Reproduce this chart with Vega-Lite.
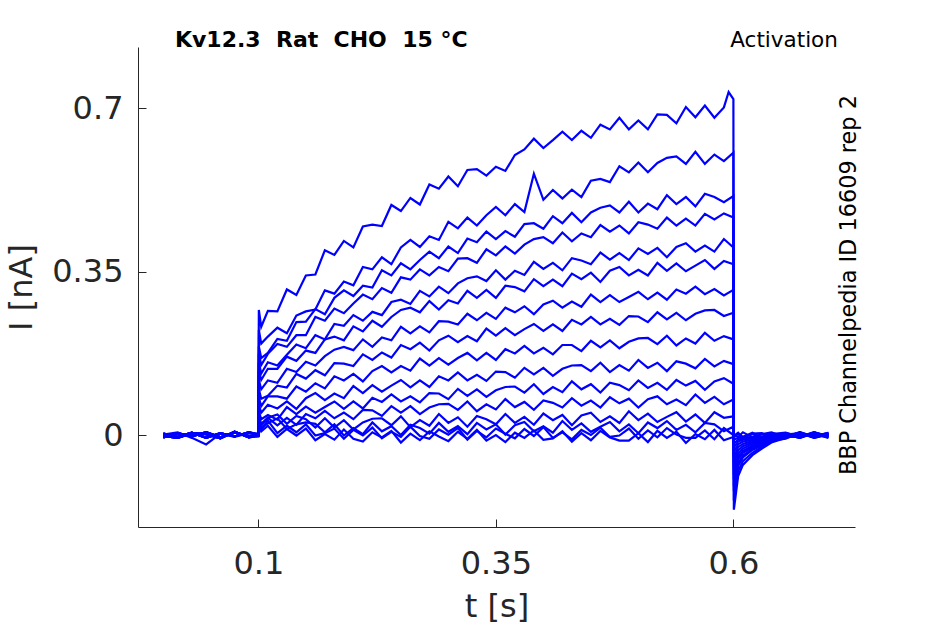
{
  "$schema": "https://vega.github.io/schema/vega-lite/v6.json",
  "width": 717,
  "height": 480,
  "autosize": "none",
  "padding": {"left": 138, "top": 47, "right": 90, "bottom": 97},
  "background": "white",
  "data": {
    "values": [
      {"s":1,"t":0,"i":0.003},{"s":1,"t":0.015,"i":-0.004},{"s":1,"t":0.03,"i":0.005},{"s":1,"t":0.045,"i":-0.006},{"s":1,"t":0.06,"i":0.004},{"s":1,"t":0.075,"i":-0.003},{"s":1,"t":0.09,"i":0.006},
      {"s":1,"t":0.1,"i":0.002},{"s":1,"t":0.1005,"i":0.268},{"s":1,"t":0.103,"i":0.232},
      {"s":1,"t":0.11,"i":0.266},{"s":1,"t":0.12,"i":0.265},{"s":1,"t":0.13,"i":0.312},{"s":1,"t":0.14,"i":0.300},{"s":1,"t":0.15,"i":0.342},{"s":1,"t":0.16,"i":0.344},{"s":1,"t":0.17,"i":0.396},{"s":1,"t":0.18,"i":0.386},{"s":1,"t":0.19,"i":0.416},{"s":1,"t":0.2,"i":0.402},
      {"s":1,"t":0.21,"i":0.447},{"s":1,"t":0.22,"i":0.451},{"s":1,"t":0.23,"i":0.448},{"s":1,"t":0.24,"i":0.493},{"s":1,"t":0.25,"i":0.480},{"s":1,"t":0.26,"i":0.508},{"s":1,"t":0.27,"i":0.494},{"s":1,"t":0.28,"i":0.537},{"s":1,"t":0.29,"i":0.528},{"s":1,"t":0.3,"i":0.554},
      {"s":1,"t":0.31,"i":0.533},{"s":1,"t":0.32,"i":0.568},{"s":1,"t":0.33,"i":0.570},{"s":1,"t":0.34,"i":0.556},{"s":1,"t":0.35,"i":0.575},{"s":1,"t":0.36,"i":0.566},{"s":1,"t":0.37,"i":0.600},{"s":1,"t":0.38,"i":0.612},{"s":1,"t":0.39,"i":0.635},{"s":1,"t":0.4,"i":0.615},
      {"s":1,"t":0.41,"i":0.632},{"s":1,"t":0.42,"i":0.650},{"s":1,"t":0.43,"i":0.632},{"s":1,"t":0.44,"i":0.652},{"s":1,"t":0.45,"i":0.637},{"s":1,"t":0.46,"i":0.665},{"s":1,"t":0.47,"i":0.655},{"s":1,"t":0.48,"i":0.680},{"s":1,"t":0.49,"i":0.655},{"s":1,"t":0.5,"i":0.674},
      {"s":1,"t":0.51,"i":0.655},{"s":1,"t":0.52,"i":0.687},{"s":1,"t":0.53,"i":0.686},{"s":1,"t":0.54,"i":0.668},{"s":1,"t":0.55,"i":0.703},{"s":1,"t":0.56,"i":0.681},{"s":1,"t":0.57,"i":0.706},{"s":1,"t":0.58,"i":0.680},{"s":1,"t":0.59,"i":0.702},{"s":1,"t":0.595,"i":0.735},{"s":1,"t":0.6,"i":0.72},
      {"s":1,"t":0.6005,"i":-0.16},{"s":1,"t":0.605,"i":-0.088},{"s":1,"t":0.61,"i":-0.064},{"s":1,"t":0.62,"i":-0.043},{"s":1,"t":0.63,"i":-0.029},{"s":1,"t":0.64,"i":-0.016},{"s":1,"t":0.655,"i":-0.006},{"s":1,"t":0.67,"i":0.004},{"s":1,"t":0.685,"i":-0.005},{"s":1,"t":0.7,"i":0.003},

      {"s":2,"t":0,"i":-0.005},{"s":2,"t":0.015,"i":0.004},{"s":2,"t":0.03,"i":-0.003},{"s":2,"t":0.045,"i":0.006},{"s":2,"t":0.06,"i":-0.005},{"s":2,"t":0.075,"i":0.005},{"s":2,"t":0.09,"i":-0.002},
      {"s":2,"t":0.1,"i":-0.003},{"s":2,"t":0.1005,"i":0.225},{"s":2,"t":0.103,"i":0.196},
      {"s":2,"t":0.11,"i":0.211},{"s":2,"t":0.12,"i":0.230},{"s":2,"t":0.13,"i":0.218},{"s":2,"t":0.14,"i":0.256},{"s":2,"t":0.15,"i":0.265},{"s":2,"t":0.16,"i":0.269},{"s":2,"t":0.17,"i":0.310},{"s":2,"t":0.18,"i":0.303},{"s":2,"t":0.19,"i":0.329},{"s":2,"t":0.2,"i":0.321},
      {"s":2,"t":0.21,"i":0.360},{"s":2,"t":0.22,"i":0.355},{"s":2,"t":0.23,"i":0.381},{"s":2,"t":0.24,"i":0.366},{"s":2,"t":0.25,"i":0.402},{"s":2,"t":0.26,"i":0.418},{"s":2,"t":0.27,"i":0.403},{"s":2,"t":0.28,"i":0.426},{"s":2,"t":0.29,"i":0.418},{"s":2,"t":0.3,"i":0.457},
      {"s":2,"t":0.31,"i":0.443},{"s":2,"t":0.32,"i":0.466},{"s":2,"t":0.33,"i":0.449},{"s":2,"t":0.34,"i":0.471},{"s":2,"t":0.35,"i":0.489},{"s":2,"t":0.36,"i":0.471},{"s":2,"t":0.37,"i":0.495},{"s":2,"t":0.38,"i":0.478},{"s":2,"t":0.39,"i":0.560},{"s":2,"t":0.4,"i":0.504},
      {"s":2,"t":0.41,"i":0.525},{"s":2,"t":0.42,"i":0.507},{"s":2,"t":0.43,"i":0.526},{"s":2,"t":0.44,"i":0.510},{"s":2,"t":0.45,"i":0.545},{"s":2,"t":0.46,"i":0.549},{"s":2,"t":0.47,"i":0.542},{"s":2,"t":0.48,"i":0.576},{"s":2,"t":0.49,"i":0.563},{"s":2,"t":0.5,"i":0.584},
      {"s":2,"t":0.51,"i":0.563},{"s":2,"t":0.52,"i":0.583},{"s":2,"t":0.53,"i":0.594},{"s":2,"t":0.54,"i":0.597},{"s":2,"t":0.55,"i":0.581},{"s":2,"t":0.56,"i":0.607},{"s":2,"t":0.57,"i":0.581},{"s":2,"t":0.58,"i":0.601},{"s":2,"t":0.59,"i":0.587},{"s":2,"t":0.6,"i":0.605},
      {"s":2,"t":0.6005,"i":-0.14},{"s":2,"t":0.605,"i":-0.077},{"s":2,"t":0.61,"i":-0.056},{"s":2,"t":0.62,"i":-0.038},{"s":2,"t":0.63,"i":-0.025},{"s":2,"t":0.64,"i":-0.014},{"s":2,"t":0.655,"i":-0.002},{"s":2,"t":0.67,"i":-0.005},{"s":2,"t":0.685,"i":0.006},{"s":2,"t":0.7,"i":-0.004},

      {"s":3,"t":0,"i":-0.002},{"s":3,"t":0.015,"i":-0.006},{"s":3,"t":0.03,"i":0.004},{"s":3,"t":0.045,"i":0.002},{"s":3,"t":0.06,"i":-0.007},{"s":3,"t":0.075,"i":0.007},{"s":3,"t":0.09,"i":-0.005},
      {"s":3,"t":0.1,"i":0.001},{"s":3,"t":0.1005,"i":0.19},{"s":3,"t":0.103,"i":0.165},
      {"s":3,"t":0.11,"i":0.176},{"s":3,"t":0.12,"i":0.206},{"s":3,"t":0.13,"i":0.202},{"s":3,"t":0.14,"i":0.242},{"s":3,"t":0.15,"i":0.243},{"s":3,"t":0.16,"i":0.270},{"s":3,"t":0.17,"i":0.259},{"s":3,"t":0.18,"i":0.294},{"s":3,"t":0.19,"i":0.310},{"s":3,"t":0.2,"i":0.298},
      {"s":3,"t":0.21,"i":0.320},{"s":3,"t":0.22,"i":0.316},{"s":3,"t":0.23,"i":0.353},{"s":3,"t":0.24,"i":0.342},{"s":3,"t":0.25,"i":0.368},{"s":3,"t":0.26,"i":0.355},{"s":3,"t":0.27,"i":0.375},{"s":3,"t":0.28,"i":0.393},{"s":3,"t":0.29,"i":0.379},{"s":3,"t":0.3,"i":0.404},
      {"s":3,"t":0.31,"i":0.390},{"s":3,"t":0.32,"i":0.421},{"s":3,"t":0.33,"i":0.413},{"s":3,"t":0.34,"i":0.436},{"s":3,"t":0.35,"i":0.420},{"s":3,"t":0.36,"i":0.437},{"s":3,"t":0.37,"i":0.425},{"s":3,"t":0.38,"i":0.452},{"s":3,"t":0.39,"i":0.454},{"s":3,"t":0.4,"i":0.442},
      {"s":3,"t":0.41,"i":0.469},{"s":3,"t":0.42,"i":0.454},{"s":3,"t":0.43,"i":0.476},{"s":3,"t":0.44,"i":0.456},{"s":3,"t":0.45,"i":0.477},{"s":3,"t":0.46,"i":0.487},{"s":3,"t":0.47,"i":0.492},{"s":3,"t":0.48,"i":0.477},{"s":3,"t":0.49,"i":0.500},{"s":3,"t":0.5,"i":0.477},
      {"s":3,"t":0.51,"i":0.496},{"s":3,"t":0.52,"i":0.484},{"s":3,"t":0.53,"i":0.514},{"s":3,"t":0.54,"i":0.495},{"s":3,"t":0.55,"i":0.510},{"s":3,"t":0.56,"i":0.490},{"s":3,"t":0.57,"i":0.517},{"s":3,"t":0.58,"i":0.510},{"s":3,"t":0.59,"i":0.499},{"s":3,"t":0.6,"i":0.512},
      {"s":3,"t":0.6005,"i":-0.12},{"s":3,"t":0.605,"i":-0.066},{"s":3,"t":0.61,"i":-0.048},{"s":3,"t":0.62,"i":-0.032},{"s":3,"t":0.63,"i":-0.022},{"s":3,"t":0.64,"i":-0.012},{"s":3,"t":0.655,"i":-0.008},{"s":3,"t":0.67,"i":0.005},{"s":3,"t":0.685,"i":-0.003},{"s":3,"t":0.7,"i":0.004},

      {"s":4,"t":0,"i":0.003},{"s":4,"t":0.015,"i":-0.004},{"s":4,"t":0.03,"i":0.005},{"s":4,"t":0.045,"i":-0.006},{"s":4,"t":0.06,"i":0.004},{"s":4,"t":0.075,"i":-0.003},{"s":4,"t":0.09,"i":0.006},
      {"s":4,"t":0.1,"i":0.0},{"s":4,"t":0.1005,"i":0.175},{"s":4,"t":0.103,"i":0.15},
      {"s":4,"t":0.11,"i":0.174},{"s":4,"t":0.12,"i":0.195},{"s":4,"t":0.13,"i":0.189},{"s":4,"t":0.14,"i":0.214},{"s":4,"t":0.15,"i":0.214},{"s":4,"t":0.16,"i":0.253},{"s":4,"t":0.17,"i":0.245},{"s":4,"t":0.18,"i":0.271},{"s":4,"t":0.19,"i":0.261},{"s":4,"t":0.2,"i":0.282},
      {"s":4,"t":0.21,"i":0.301},{"s":4,"t":0.22,"i":0.291},{"s":4,"t":0.23,"i":0.315},{"s":4,"t":0.24,"i":0.305},{"s":4,"t":0.25,"i":0.338},{"s":4,"t":0.26,"i":0.333},{"s":4,"t":0.27,"i":0.355},{"s":4,"t":0.28,"i":0.342},{"s":4,"t":0.29,"i":0.360},{"s":4,"t":0.3,"i":0.351},
      {"s":4,"t":0.31,"i":0.378},{"s":4,"t":0.32,"i":0.379},{"s":4,"t":0.33,"i":0.369},{"s":4,"t":0.34,"i":0.398},{"s":4,"t":0.35,"i":0.385},{"s":4,"t":0.36,"i":0.404},{"s":4,"t":0.37,"i":0.389},{"s":4,"t":0.38,"i":0.408},{"s":4,"t":0.39,"i":0.420},{"s":4,"t":0.4,"i":0.424},
      {"s":4,"t":0.41,"i":0.411},{"s":4,"t":0.42,"i":0.434},{"s":4,"t":0.43,"i":0.415},{"s":4,"t":0.44,"i":0.432},{"s":4,"t":0.45,"i":0.424},{"s":4,"t":0.46,"i":0.450},{"s":4,"t":0.47,"i":0.436},{"s":4,"t":0.48,"i":0.449},{"s":4,"t":0.49,"i":0.432},{"s":4,"t":0.5,"i":0.456},
      {"s":4,"t":0.51,"i":0.451},{"s":4,"t":0.52,"i":0.442},{"s":4,"t":0.53,"i":0.466},{"s":4,"t":0.54,"i":0.449},{"s":4,"t":0.55,"i":0.464},{"s":4,"t":0.56,"i":0.449},{"s":4,"t":0.57,"i":0.474},{"s":4,"t":0.58,"i":0.462},{"s":4,"t":0.59,"i":0.475},{"s":4,"t":0.6,"i":0.466},
      {"s":4,"t":0.6005,"i":-0.11},{"s":4,"t":0.605,"i":-0.06},{"s":4,"t":0.61,"i":-0.044},{"s":4,"t":0.62,"i":-0.03},{"s":4,"t":0.63,"i":-0.02},{"s":4,"t":0.64,"i":-0.011},{"s":4,"t":0.655,"i":0.001},{"s":4,"t":0.67,"i":-0.006},{"s":4,"t":0.685,"i":0.005},{"s":4,"t":0.7,"i":-0.002},

      {"s":5,"t":0,"i":0.001},{"s":5,"t":0.015,"i":0.006},{"s":5,"t":0.03,"i":-0.006},{"s":5,"t":0.045,"i":-0.02},{"s":5,"t":0.06,"i":0.003},{"s":5,"t":0.075,"i":-0.004},{"s":5,"t":0.09,"i":0.004},
      {"s":5,"t":0.1,"i":0.002},{"s":5,"t":0.1005,"i":0.155},{"s":5,"t":0.103,"i":0.132},
      {"s":5,"t":0.11,"i":0.156},{"s":5,"t":0.12,"i":0.149},{"s":5,"t":0.13,"i":0.172},{"s":5,"t":0.14,"i":0.194},{"s":5,"t":0.15,"i":0.186},{"s":5,"t":0.16,"i":0.214},{"s":5,"t":0.17,"i":0.205},{"s":5,"t":0.18,"i":0.238},{"s":5,"t":0.19,"i":0.234},{"s":5,"t":0.2,"i":0.257},
      {"s":5,"t":0.21,"i":0.245},{"s":5,"t":0.22,"i":0.264},{"s":5,"t":0.23,"i":0.257},{"s":5,"t":0.24,"i":0.285},{"s":5,"t":0.25,"i":0.290},{"s":5,"t":0.26,"i":0.281},{"s":5,"t":0.27,"i":0.309},{"s":5,"t":0.28,"i":0.297},{"s":5,"t":0.29,"i":0.318},{"s":5,"t":0.3,"i":0.304},
      {"s":5,"t":0.31,"i":0.325},{"s":5,"t":0.32,"i":0.336},{"s":5,"t":0.33,"i":0.340},{"s":5,"t":0.34,"i":0.330},{"s":5,"t":0.35,"i":0.353},{"s":5,"t":0.36,"i":0.333},{"s":5,"t":0.37,"i":0.352},{"s":5,"t":0.38,"i":0.343},{"s":5,"t":0.39,"i":0.371},{"s":5,"t":0.4,"i":0.356},
      {"s":5,"t":0.41,"i":0.369},{"s":5,"t":0.42,"i":0.353},{"s":5,"t":0.43,"i":0.379},{"s":5,"t":0.44,"i":0.374},{"s":5,"t":0.45,"i":0.366},{"s":5,"t":0.46,"i":0.391},{"s":5,"t":0.47,"i":0.376},{"s":5,"t":0.48,"i":0.390},{"s":5,"t":0.49,"i":0.375},{"s":5,"t":0.5,"i":0.400},
      {"s":5,"t":0.51,"i":0.388},{"s":5,"t":0.52,"i":0.401},{"s":5,"t":0.53,"i":0.381},{"s":5,"t":0.54,"i":0.403},{"s":5,"t":0.55,"i":0.411},{"s":5,"t":0.56,"i":0.393},{"s":5,"t":0.57,"i":0.406},{"s":5,"t":0.58,"i":0.393},{"s":5,"t":0.59,"i":0.420},{"s":5,"t":0.6,"i":0.402},
      {"s":5,"t":0.6005,"i":-0.095},{"s":5,"t":0.605,"i":-0.052},{"s":5,"t":0.61,"i":-0.038},{"s":5,"t":0.62,"i":-0.026},{"s":5,"t":0.63,"i":-0.017},{"s":5,"t":0.64,"i":-0.009},{"s":5,"t":0.655,"i":-0.004},{"s":5,"t":0.67,"i":0.006},{"s":5,"t":0.685,"i":-0.006},{"s":5,"t":0.7,"i":0.001},

      {"s":6,"t":0,"i":-0.005},{"s":6,"t":0.015,"i":0.004},{"s":6,"t":0.03,"i":-0.003},{"s":6,"t":0.045,"i":0.006},{"s":6,"t":0.06,"i":-0.005},{"s":6,"t":0.075,"i":0.005},{"s":6,"t":0.09,"i":-0.002},
      {"s":6,"t":0.1,"i":-0.002},{"s":6,"t":0.1005,"i":0.138},{"s":6,"t":0.103,"i":0.118},
      {"s":6,"t":0.11,"i":0.142},{"s":6,"t":0.12,"i":0.142},{"s":6,"t":0.13,"i":0.168},{"s":6,"t":0.14,"i":0.159},{"s":6,"t":0.15,"i":0.181},{"s":6,"t":0.16,"i":0.176},{"s":6,"t":0.17,"i":0.205},{"s":6,"t":0.18,"i":0.211},{"s":6,"t":0.19,"i":0.203},{"s":6,"t":0.2,"i":0.233},
      {"s":6,"t":0.21,"i":0.222},{"s":6,"t":0.22,"i":0.245},{"s":6,"t":0.23,"i":0.232},{"s":6,"t":0.24,"i":0.253},{"s":6,"t":0.25,"i":0.268},{"s":6,"t":0.26,"i":0.273},{"s":6,"t":0.27,"i":0.263},{"s":6,"t":0.28,"i":0.287},{"s":6,"t":0.29,"i":0.269},{"s":6,"t":0.3,"i":0.289},
      {"s":6,"t":0.31,"i":0.282},{"s":6,"t":0.32,"i":0.309},{"s":6,"t":0.33,"i":0.294},{"s":6,"t":0.34,"i":0.311},{"s":6,"t":0.35,"i":0.294},{"s":6,"t":0.36,"i":0.320},{"s":6,"t":0.37,"i":0.317},{"s":6,"t":0.38,"i":0.308},{"s":6,"t":0.39,"i":0.334},{"s":6,"t":0.4,"i":0.319},
      {"s":6,"t":0.41,"i":0.333},{"s":6,"t":0.42,"i":0.319},{"s":6,"t":0.43,"i":0.346},{"s":6,"t":0.44,"i":0.334},{"s":6,"t":0.45,"i":0.348},{"s":6,"t":0.46,"i":0.328},{"s":6,"t":0.47,"i":0.352},{"s":6,"t":0.48,"i":0.360},{"s":6,"t":0.49,"i":0.342},{"s":6,"t":0.5,"i":0.354},
      {"s":6,"t":0.51,"i":0.342},{"s":6,"t":0.52,"i":0.369},{"s":6,"t":0.53,"i":0.352},{"s":6,"t":0.54,"i":0.368},{"s":6,"t":0.55,"i":0.351},{"s":6,"t":0.56,"i":0.363},{"s":6,"t":0.57,"i":0.375},{"s":6,"t":0.58,"i":0.356},{"s":6,"t":0.59,"i":0.373},{"s":6,"t":0.6,"i":0.366},
      {"s":6,"t":0.6005,"i":-0.085},{"s":6,"t":0.605,"i":-0.047},{"s":6,"t":0.61,"i":-0.034},{"s":6,"t":0.62,"i":-0.023},{"s":6,"t":0.63,"i":-0.015},{"s":6,"t":0.64,"i":-0.008},{"s":6,"t":0.655,"i":0.002},{"s":6,"t":0.67,"i":-0.004},{"s":6,"t":0.685,"i":0.003},{"s":6,"t":0.7,"i":-0.006},

      {"s":7,"t":0,"i":-0.002},{"s":7,"t":0.015,"i":-0.006},{"s":7,"t":0.03,"i":0.004},{"s":7,"t":0.045,"i":0.002},{"s":7,"t":0.06,"i":-0.007},{"s":7,"t":0.075,"i":0.007},{"s":7,"t":0.09,"i":-0.005},
      {"s":7,"t":0.1,"i":0.003},{"s":7,"t":0.1005,"i":0.118},{"s":7,"t":0.103,"i":0.098},
      {"s":7,"t":0.11,"i":0.117},{"s":7,"t":0.12,"i":0.112},{"s":7,"t":0.13,"i":0.142},{"s":7,"t":0.14,"i":0.135},{"s":7,"t":0.15,"i":0.157},{"s":7,"t":0.16,"i":0.149},{"s":7,"t":0.17,"i":0.169},{"s":7,"t":0.18,"i":0.183},{"s":7,"t":0.19,"i":0.189},{"s":7,"t":0.2,"i":0.182},
      {"s":7,"t":0.21,"i":0.205},{"s":7,"t":0.22,"i":0.189},{"s":7,"t":0.23,"i":0.209},{"s":7,"t":0.24,"i":0.203},{"s":7,"t":0.25,"i":0.232},{"s":7,"t":0.26,"i":0.218},{"s":7,"t":0.27,"i":0.233},{"s":7,"t":0.28,"i":0.220},{"s":7,"t":0.29,"i":0.244},{"s":7,"t":0.3,"i":0.243},
      {"s":7,"t":0.31,"i":0.237},{"s":7,"t":0.32,"i":0.260},{"s":7,"t":0.33,"i":0.246},{"s":7,"t":0.34,"i":0.262},{"s":7,"t":0.35,"i":0.249},{"s":7,"t":0.36,"i":0.273},{"s":7,"t":0.37,"i":0.263},{"s":7,"t":0.38,"i":0.276},{"s":7,"t":0.39,"i":0.259},{"s":7,"t":0.4,"i":0.280},
      {"s":7,"t":0.41,"i":0.288},{"s":7,"t":0.42,"i":0.273},{"s":7,"t":0.43,"i":0.286},{"s":7,"t":0.44,"i":0.275},{"s":7,"t":0.45,"i":0.301},{"s":7,"t":0.46,"i":0.285},{"s":7,"t":0.47,"i":0.300},{"s":7,"t":0.48,"i":0.285},{"s":7,"t":0.49,"i":0.296},{"s":7,"t":0.5,"i":0.307},
      {"s":7,"t":0.51,"i":0.291},{"s":7,"t":0.52,"i":0.305},{"s":7,"t":0.53,"i":0.290},{"s":7,"t":0.54,"i":0.312},{"s":7,"t":0.55,"i":0.303},{"s":7,"t":0.56,"i":0.318},{"s":7,"t":0.57,"i":0.302},{"s":7,"t":0.58,"i":0.313},{"s":7,"t":0.59,"i":0.299},{"s":7,"t":0.6,"i":0.311},
      {"s":7,"t":0.6005,"i":-0.072},{"s":7,"t":0.605,"i":-0.04},{"s":7,"t":0.61,"i":-0.029},{"s":7,"t":0.62,"i":-0.019},{"s":7,"t":0.63,"i":-0.013},{"s":7,"t":0.64,"i":-0.007},{"s":7,"t":0.655,"i":-0.005},{"s":7,"t":0.67,"i":0.004},{"s":7,"t":0.685,"i":-0.002},{"s":7,"t":0.7,"i":0.005},

      {"s":8,"t":0,"i":0.003},{"s":8,"t":0.015,"i":-0.004},{"s":8,"t":0.03,"i":0.005},{"s":8,"t":0.045,"i":-0.006},{"s":8,"t":0.06,"i":0.004},{"s":8,"t":0.075,"i":-0.003},{"s":8,"t":0.09,"i":0.006},
      {"s":8,"t":0.1,"i":-0.001},{"s":8,"t":0.1005,"i":0.098},{"s":8,"t":0.103,"i":0.078},
      {"s":8,"t":0.11,"i":0.084},{"s":8,"t":0.12,"i":0.106},{"s":8,"t":0.13,"i":0.102},{"s":8,"t":0.14,"i":0.131},{"s":8,"t":0.15,"i":0.121},{"s":8,"t":0.16,"i":0.139},{"s":8,"t":0.17,"i":0.128},{"s":8,"t":0.18,"i":0.154},{"s":8,"t":0.19,"i":0.153},{"s":8,"t":0.2,"i":0.148},
      {"s":8,"t":0.21,"i":0.173},{"s":8,"t":0.22,"i":0.161},{"s":8,"t":0.23,"i":0.177},{"s":8,"t":0.24,"i":0.166},{"s":8,"t":0.25,"i":0.193},{"s":8,"t":0.26,"i":0.184},{"s":8,"t":0.27,"i":0.198},{"s":8,"t":0.28,"i":0.181},{"s":8,"t":0.29,"i":0.203},{"s":8,"t":0.3,"i":0.213},
      {"s":8,"t":0.31,"i":0.199},{"s":8,"t":0.32,"i":0.212},{"s":8,"t":0.33,"i":0.201},{"s":8,"t":0.34,"i":0.228},{"s":8,"t":0.35,"i":0.213},{"s":8,"t":0.36,"i":0.229},{"s":8,"t":0.37,"i":0.214},{"s":8,"t":0.38,"i":0.227},{"s":8,"t":0.39,"i":0.238},{"s":8,"t":0.4,"i":0.223},
      {"s":8,"t":0.41,"i":0.237},{"s":8,"t":0.42,"i":0.223},{"s":8,"t":0.43,"i":0.247},{"s":8,"t":0.44,"i":0.237},{"s":8,"t":0.45,"i":0.253},{"s":8,"t":0.46,"i":0.237},{"s":8,"t":0.47,"i":0.249},{"s":8,"t":0.48,"i":0.236},{"s":8,"t":0.49,"i":0.255},{"s":8,"t":0.5,"i":0.254},
      {"s":8,"t":0.51,"i":0.242},{"s":8,"t":0.52,"i":0.263},{"s":8,"t":0.53,"i":0.248},{"s":8,"t":0.54,"i":0.262},{"s":8,"t":0.55,"i":0.246},{"s":8,"t":0.56,"i":0.260},{"s":8,"t":0.57,"i":0.267},{"s":8,"t":0.58,"i":0.268},{"s":8,"t":0.59,"i":0.255},{"s":8,"t":0.6,"i":0.262},
      {"s":8,"t":0.6005,"i":-0.06},{"s":8,"t":0.605,"i":-0.033},{"s":8,"t":0.61,"i":-0.024},{"s":8,"t":0.62,"i":-0.016},{"s":8,"t":0.63,"i":-0.011},{"s":8,"t":0.64,"i":-0.006},{"s":8,"t":0.655,"i":0.003},{"s":8,"t":0.67,"i":-0.006},{"s":8,"t":0.685,"i":0.004},{"s":8,"t":0.7,"i":-0.003},

      {"s":9,"t":0,"i":-0.005},{"s":9,"t":0.015,"i":0.004},{"s":9,"t":0.03,"i":-0.003},{"s":9,"t":0.045,"i":0.006},{"s":9,"t":0.06,"i":-0.005},{"s":9,"t":0.075,"i":0.005},{"s":9,"t":0.09,"i":-0.002},
      {"s":9,"t":0.1,"i":0.001},{"s":9,"t":0.1005,"i":0.08},{"s":9,"t":0.103,"i":0.062},
      {"s":9,"t":0.11,"i":0.083},{"s":9,"t":0.12,"i":0.083},{"s":9,"t":0.13,"i":0.078},{"s":9,"t":0.14,"i":0.104},{"s":9,"t":0.15,"i":0.093},{"s":9,"t":0.16,"i":0.111},{"s":9,"t":0.17,"i":0.100},{"s":9,"t":0.18,"i":0.126},{"s":9,"t":0.19,"i":0.117},{"s":9,"t":0.2,"i":0.131},
      {"s":9,"t":0.21,"i":0.115},{"s":9,"t":0.22,"i":0.137},{"s":9,"t":0.23,"i":0.148},{"s":9,"t":0.24,"i":0.134},{"s":9,"t":0.25,"i":0.148},{"s":9,"t":0.26,"i":0.138},{"s":9,"t":0.27,"i":0.164},{"s":9,"t":0.28,"i":0.149},{"s":9,"t":0.29,"i":0.165},{"s":9,"t":0.3,"i":0.151},
      {"s":9,"t":0.31,"i":0.165},{"s":9,"t":0.32,"i":0.176},{"s":9,"t":0.33,"i":0.160},{"s":9,"t":0.34,"i":0.176},{"s":9,"t":0.35,"i":0.161},{"s":9,"t":0.36,"i":0.184},{"s":9,"t":0.37,"i":0.175},{"s":9,"t":0.38,"i":0.191},{"s":9,"t":0.39,"i":0.175},{"s":9,"t":0.4,"i":0.187},
      {"s":9,"t":0.41,"i":0.173},{"s":9,"t":0.42,"i":0.193},{"s":9,"t":0.43,"i":0.193},{"s":9,"t":0.44,"i":0.180},{"s":9,"t":0.45,"i":0.202},{"s":9,"t":0.46,"i":0.188},{"s":9,"t":0.47,"i":0.203},{"s":9,"t":0.48,"i":0.186},{"s":9,"t":0.49,"i":0.200},{"s":9,"t":0.5,"i":0.207},
      {"s":9,"t":0.51,"i":0.208},{"s":9,"t":0.52,"i":0.195},{"s":9,"t":0.53,"i":0.213},{"s":9,"t":0.54,"i":0.192},{"s":9,"t":0.55,"i":0.207},{"s":9,"t":0.56,"i":0.196},{"s":9,"t":0.57,"i":0.219},{"s":9,"t":0.58,"i":0.202},{"s":9,"t":0.59,"i":0.212},{"s":9,"t":0.6,"i":0.205},
      {"s":9,"t":0.6005,"i":-0.048},{"s":9,"t":0.605,"i":-0.026},{"s":9,"t":0.61,"i":-0.019},{"s":9,"t":0.62,"i":-0.013},{"s":9,"t":0.63,"i":-0.009},{"s":9,"t":0.64,"i":-0.005},{"s":9,"t":0.655,"i":-0.003},{"s":9,"t":0.67,"i":0.005},{"s":9,"t":0.685,"i":-0.005},{"s":9,"t":0.7,"i":0.002},

      {"s":10,"t":0,"i":-0.002},{"s":10,"t":0.015,"i":-0.006},{"s":10,"t":0.03,"i":0.004},{"s":10,"t":0.045,"i":0.002},{"s":10,"t":0.06,"i":-0.007},{"s":10,"t":0.075,"i":0.007},{"s":10,"t":0.09,"i":-0.005},
      {"s":10,"t":0.1,"i":-0.002},{"s":10,"t":0.1005,"i":0.065},{"s":10,"t":0.103,"i":0.048},
      {"s":10,"t":0.11,"i":0.065},{"s":10,"t":0.12,"i":0.057},{"s":10,"t":0.13,"i":0.072},{"s":10,"t":0.14,"i":0.056},{"s":10,"t":0.15,"i":0.079},{"s":10,"t":0.16,"i":0.090},{"s":10,"t":0.17,"i":0.075},{"s":10,"t":0.18,"i":0.089},{"s":10,"t":0.19,"i":0.079},{"s":10,"t":0.2,"i":0.105},
      {"s":10,"t":0.21,"i":0.090},{"s":10,"t":0.22,"i":0.107},{"s":10,"t":0.23,"i":0.093},{"s":10,"t":0.24,"i":0.106},{"s":10,"t":0.25,"i":0.118},{"s":10,"t":0.26,"i":0.102},{"s":10,"t":0.27,"i":0.117},{"s":10,"t":0.28,"i":0.103},{"s":10,"t":0.29,"i":0.126},{"s":10,"t":0.3,"i":0.117},
      {"s":10,"t":0.31,"i":0.134},{"s":10,"t":0.32,"i":0.117},{"s":10,"t":0.33,"i":0.129},{"s":10,"t":0.34,"i":0.116},{"s":10,"t":0.35,"i":0.136},{"s":10,"t":0.36,"i":0.135},{"s":10,"t":0.37,"i":0.123},{"s":10,"t":0.38,"i":0.144},{"s":10,"t":0.39,"i":0.130},{"s":10,"t":0.4,"i":0.144},
      {"s":10,"t":0.41,"i":0.127},{"s":10,"t":0.42,"i":0.142},{"s":10,"t":0.43,"i":0.149},{"s":10,"t":0.44,"i":0.150},{"s":10,"t":0.45,"i":0.137},{"s":10,"t":0.46,"i":0.155},{"s":10,"t":0.47,"i":0.135},{"s":10,"t":0.48,"i":0.150},{"s":10,"t":0.49,"i":0.138},{"s":10,"t":0.5,"i":0.161},
      {"s":10,"t":0.51,"i":0.144},{"s":10,"t":0.52,"i":0.155},{"s":10,"t":0.53,"i":0.137},{"s":10,"t":0.54,"i":0.158},{"s":10,"t":0.55,"i":0.153},{"s":10,"t":0.56,"i":0.143},{"s":10,"t":0.57,"i":0.163},{"s":10,"t":0.58,"i":0.147},{"s":10,"t":0.59,"i":0.159},{"s":10,"t":0.6,"i":0.152},
      {"s":10,"t":0.6005,"i":-0.036},{"s":10,"t":0.605,"i":-0.02},{"s":10,"t":0.61,"i":-0.014},{"s":10,"t":0.62,"i":-0.01},{"s":10,"t":0.63,"i":-0.006},{"s":10,"t":0.64,"i":-0.003},{"s":10,"t":0.655,"i":0.004},{"s":10,"t":0.67,"i":-0.003},{"s":10,"t":0.685,"i":0.006},{"s":10,"t":0.7,"i":-0.004},

      {"s":11,"t":0,"i":0.003},{"s":11,"t":0.015,"i":-0.004},{"s":11,"t":0.03,"i":0.005},{"s":11,"t":0.045,"i":-0.006},{"s":11,"t":0.06,"i":0.004},{"s":11,"t":0.075,"i":-0.003},{"s":11,"t":0.09,"i":0.006},
      {"s":11,"t":0.1,"i":0.002},{"s":11,"t":0.1005,"i":0.05},{"s":11,"t":0.103,"i":0.034},
      {"s":11,"t":0.11,"i":0.043},{"s":11,"t":0.12,"i":0.033},{"s":11,"t":0.13,"i":0.060},{"s":11,"t":0.14,"i":0.045},{"s":11,"t":0.15,"i":0.061},{"s":11,"t":0.16,"i":0.048},{"s":11,"t":0.17,"i":0.060},{"s":11,"t":0.18,"i":0.072},{"s":11,"t":0.19,"i":0.056},{"s":11,"t":0.2,"i":0.072},
      {"s":11,"t":0.21,"i":0.057},{"s":11,"t":0.22,"i":0.080},{"s":11,"t":0.23,"i":0.071},{"s":11,"t":0.24,"i":0.087},{"s":11,"t":0.25,"i":0.072},{"s":11,"t":0.26,"i":0.083},{"s":11,"t":0.27,"i":0.070},{"s":11,"t":0.28,"i":0.090},{"s":11,"t":0.29,"i":0.089},{"s":11,"t":0.3,"i":0.077},
      {"s":11,"t":0.31,"i":0.099},{"s":11,"t":0.32,"i":0.084},{"s":11,"t":0.33,"i":0.098},{"s":11,"t":0.34,"i":0.082},{"s":11,"t":0.35,"i":0.096},{"s":11,"t":0.36,"i":0.103},{"s":11,"t":0.37,"i":0.104},{"s":11,"t":0.38,"i":0.091},{"s":11,"t":0.39,"i":0.109},{"s":11,"t":0.4,"i":0.088},
      {"s":11,"t":0.41,"i":0.103},{"s":11,"t":0.42,"i":0.092},{"s":11,"t":0.43,"i":0.115},{"s":11,"t":0.44,"i":0.098},{"s":11,"t":0.45,"i":0.109},{"s":11,"t":0.46,"i":0.091},{"s":11,"t":0.47,"i":0.112},{"s":11,"t":0.48,"i":0.107},{"s":11,"t":0.49,"i":0.096},{"s":11,"t":0.5,"i":0.117},
      {"s":11,"t":0.51,"i":0.101},{"s":11,"t":0.52,"i":0.112},{"s":11,"t":0.53,"i":0.097},{"s":11,"t":0.54,"i":0.118},{"s":11,"t":0.55,"i":0.106},{"s":11,"t":0.56,"i":0.116},{"s":11,"t":0.57,"i":0.097},{"s":11,"t":0.58,"i":0.115},{"s":11,"t":0.59,"i":0.122},{"s":11,"t":0.6,"i":0.110},
      {"s":11,"t":0.6005,"i":-0.026},{"s":11,"t":0.605,"i":-0.014},{"s":11,"t":0.61,"i":-0.01},{"s":11,"t":0.62,"i":-0.007},{"s":11,"t":0.63,"i":-0.005},{"s":11,"t":0.64,"i":0.001},{"s":11,"t":0.655,"i":-0.006},{"s":11,"t":0.67,"i":0.003},{"s":11,"t":0.685,"i":-0.004},{"s":11,"t":0.7,"i":0.005},

      {"s":12,"t":0,"i":-0.005},{"s":12,"t":0.015,"i":0.004},{"s":12,"t":0.03,"i":-0.003},{"s":12,"t":0.045,"i":0.006},{"s":12,"t":0.06,"i":-0.005},{"s":12,"t":0.075,"i":0.005},{"s":12,"t":0.09,"i":-0.002},
      {"s":12,"t":0.1,"i":-0.001},{"s":12,"t":0.1005,"i":0.04},{"s":12,"t":0.103,"i":0.024},
      {"s":12,"t":0.11,"i":0.037},{"s":12,"t":0.12,"i":0.021},{"s":12,"t":0.13,"i":0.037},{"s":12,"t":0.14,"i":0.022},{"s":12,"t":0.15,"i":0.045},{"s":12,"t":0.16,"i":0.036},{"s":12,"t":0.17,"i":0.052},{"s":12,"t":0.18,"i":0.036},{"s":12,"t":0.19,"i":0.048},{"s":12,"t":0.2,"i":0.034},
      {"s":12,"t":0.21,"i":0.054},{"s":12,"t":0.22,"i":0.053},{"s":12,"t":0.23,"i":0.041},{"s":12,"t":0.24,"i":0.062},{"s":12,"t":0.25,"i":0.048},{"s":12,"t":0.26,"i":0.062},{"s":12,"t":0.27,"i":0.045},{"s":12,"t":0.28,"i":0.059},{"s":12,"t":0.29,"i":0.066},{"s":12,"t":0.3,"i":0.067},
      {"s":12,"t":0.31,"i":0.054},{"s":12,"t":0.32,"i":0.072},{"s":12,"t":0.33,"i":0.051},{"s":12,"t":0.34,"i":0.066},{"s":12,"t":0.35,"i":0.055},{"s":12,"t":0.36,"i":0.077},{"s":12,"t":0.37,"i":0.060},{"s":12,"t":0.38,"i":0.071},{"s":12,"t":0.39,"i":0.054},{"s":12,"t":0.4,"i":0.074},
      {"s":12,"t":0.41,"i":0.069},{"s":12,"t":0.42,"i":0.059},{"s":12,"t":0.43,"i":0.079},{"s":12,"t":0.44,"i":0.063},{"s":12,"t":0.45,"i":0.074},{"s":12,"t":0.46,"i":0.059},{"s":12,"t":0.47,"i":0.081},{"s":12,"t":0.48,"i":0.068},{"s":12,"t":0.49,"i":0.078},{"s":12,"t":0.5,"i":0.059},
      {"s":12,"t":0.51,"i":0.077},{"s":12,"t":0.52,"i":0.083},{"s":12,"t":0.53,"i":0.066},{"s":12,"t":0.54,"i":0.076},{"s":12,"t":0.55,"i":0.064},{"s":12,"t":0.56,"i":0.087},{"s":12,"t":0.57,"i":0.069},{"s":12,"t":0.58,"i":0.082},{"s":12,"t":0.59,"i":0.066},{"s":12,"t":0.6,"i":0.076},
      {"s":12,"t":0.6005,"i":-0.018},{"s":12,"t":0.605,"i":-0.01},{"s":12,"t":0.61,"i":-0.007},{"s":12,"t":0.62,"i":-0.005},{"s":12,"t":0.63,"i":-0.003},{"s":12,"t":0.64,"i":0.003},{"s":12,"t":0.655,"i":-0.002},{"s":12,"t":0.67,"i":-0.005},{"s":12,"t":0.685,"i":0.005},{"s":12,"t":0.7,"i":-0.001},

      {"s":13,"t":0,"i":-0.002},{"s":13,"t":0.015,"i":-0.006},{"s":13,"t":0.03,"i":0.004},{"s":13,"t":0.045,"i":0.002},{"s":13,"t":0.06,"i":-0.007},{"s":13,"t":0.075,"i":0.007},{"s":13,"t":0.09,"i":-0.005},
      {"s":13,"t":0.1,"i":0.001},{"s":13,"t":0.1005,"i":0.035},{"s":13,"t":0.103,"i":0.02},
      {"s":13,"t":0.11,"i":0.037},{"s":13,"t":0.12,"i":0.044},{"s":13,"t":0.13,"i":0.024},{"s":13,"t":0.14,"i":0.041},{"s":13,"t":0.15,"i":0.034},{"s":13,"t":0.16,"i":0.016},{"s":13,"t":0.17,"i":0.036},{"s":13,"t":0.18,"i":0.016},{"s":13,"t":0.19,"i":0.032},{"s":13,"t":0.2,"i":0.012},
      {"s":13,"t":0.21,"i":0.027},{"s":13,"t":0.22,"i":0.035},{"s":13,"t":0.23,"i":0.036},{"s":13,"t":0.24,"i":0.021},{"s":13,"t":0.25,"i":0.040},{"s":13,"t":0.26,"i":0.017},{"s":13,"t":0.27,"i":0.032},{"s":13,"t":0.28,"i":0.020},{"s":13,"t":0.29,"i":0.045},{"s":13,"t":0.3,"i":0.026},
      {"s":13,"t":0.31,"i":0.038},{"s":13,"t":0.32,"i":0.018},{"s":13,"t":0.33,"i":0.041},{"s":13,"t":0.34,"i":0.034},{"s":13,"t":0.35,"i":0.023},{"s":13,"t":0.36,"i":0.045},{"s":13,"t":0.37,"i":0.026},{"s":13,"t":0.38,"i":0.039},{"s":13,"t":0.39,"i":0.022},{"s":13,"t":0.4,"i":0.046},
      {"s":13,"t":0.41,"i":0.032},{"s":13,"t":0.42,"i":0.043},{"s":13,"t":0.43,"i":0.021},{"s":13,"t":0.44,"i":0.042},{"s":13,"t":0.45,"i":0.048},{"s":13,"t":0.46,"i":0.028},{"s":13,"t":0.47,"i":0.040},{"s":13,"t":0.48,"i":0.026},{"s":13,"t":0.49,"i":0.051},{"s":13,"t":0.5,"i":0.032},
      {"s":13,"t":0.51,"i":0.046},{"s":13,"t":0.52,"i":0.028},{"s":13,"t":0.53,"i":0.039},{"s":13,"t":0.54,"i":0.049},{"s":13,"t":0.55,"i":0.029},{"s":13,"t":0.56,"i":0.044},{"s":13,"t":0.57,"i":0.026},{"s":13,"t":0.58,"i":0.049},{"s":13,"t":0.59,"i":0.037},{"s":13,"t":0.6,"i":0.040},
      {"s":13,"t":0.6005,"i":-0.01},{"s":13,"t":0.605,"i":-0.006},{"s":13,"t":0.61,"i":-0.004},{"s":13,"t":0.62,"i":0.002},{"s":13,"t":0.63,"i":-0.005},{"s":13,"t":0.64,"i":0.004},{"s":13,"t":0.655,"i":-0.004},{"s":13,"t":0.67,"i":0.006},{"s":13,"t":0.685,"i":-0.003},{"s":13,"t":0.7,"i":0.002},

      {"s":14,"t":0,"i":0.003},{"s":14,"t":0.015,"i":-0.004},{"s":14,"t":0.03,"i":0.005},{"s":14,"t":0.045,"i":-0.006},{"s":14,"t":0.06,"i":0.004},{"s":14,"t":0.075,"i":-0.003},{"s":14,"t":0.09,"i":0.006},
      {"s":14,"t":0.1,"i":0.0},{"s":14,"t":0.1005,"i":0.03},{"s":14,"t":0.103,"i":0.015},
      {"s":14,"t":0.11,"i":0.025},{"s":14,"t":0.12,"i":0.036},{"s":14,"t":0.13,"i":0.013},{"s":14,"t":0.14,"i":0.023},{"s":14,"t":0.15,"i":0.027},{"s":14,"t":0.16,"i":0.024},{"s":14,"t":0.17,"i":0.006},{"s":14,"t":0.18,"i":0.023},{"s":14,"t":0.19,"i":-0.001},{"s":14,"t":0.2,"i":0.015},
      {"s":14,"t":0.21,"i":0.002},{"s":14,"t":0.22,"i":0.027},{"s":14,"t":0.23,"i":0.008},{"s":14,"t":0.24,"i":0.019},{"s":14,"t":0.25,"i":0.000},{"s":14,"t":0.26,"i":0.022},{"s":14,"t":0.27,"i":0.015},{"s":14,"t":0.28,"i":0.003},{"s":14,"t":0.29,"i":0.026},{"s":14,"t":0.3,"i":0.007},
      {"s":14,"t":0.31,"i":0.019},{"s":14,"t":0.32,"i":0.002},{"s":14,"t":0.33,"i":0.026},{"s":14,"t":0.34,"i":0.012},{"s":14,"t":0.35,"i":0.023},{"s":14,"t":0.36,"i":0.001},{"s":14,"t":0.37,"i":0.021},{"s":14,"t":0.38,"i":0.028},{"s":14,"t":0.39,"i":0.008},{"s":14,"t":0.4,"i":0.019},
      {"s":14,"t":0.41,"i":0.005},{"s":14,"t":0.42,"i":0.030},{"s":14,"t":0.43,"i":0.011},{"s":14,"t":0.44,"i":0.025},{"s":14,"t":0.45,"i":0.007},{"s":14,"t":0.46,"i":0.018},{"s":14,"t":0.47,"i":0.028},{"s":14,"t":0.48,"i":0.008},{"s":14,"t":0.49,"i":0.023},{"s":14,"t":0.5,"i":0.004},
      {"s":14,"t":0.51,"i":0.027},{"s":14,"t":0.52,"i":0.015},{"s":14,"t":0.53,"i":0.030},{"s":14,"t":0.54,"i":0.011},{"s":14,"t":0.55,"i":0.022},{"s":14,"t":0.56,"i":0.006},{"s":14,"t":0.57,"i":0.026},{"s":14,"t":0.58,"i":0.023},{"s":14,"t":0.59,"i":0.008},{"s":14,"t":0.6,"i":0.018},
      {"s":14,"t":0.6005,"i":-0.005},{"s":14,"t":0.605,"i":0.003},{"s":14,"t":0.61,"i":-0.004},{"s":14,"t":0.62,"i":0.005},{"s":14,"t":0.63,"i":-0.006},{"s":14,"t":0.64,"i":0.002},{"s":14,"t":0.655,"i":0.005},{"s":14,"t":0.67,"i":-0.004},{"s":14,"t":0.685,"i":0.002},{"s":14,"t":0.7,"i":-0.005},

      {"s":15,"t":0,"i":-0.005},{"s":15,"t":0.015,"i":0.004},{"s":15,"t":0.03,"i":-0.003},{"s":15,"t":0.045,"i":0.006},{"s":15,"t":0.06,"i":-0.005},{"s":15,"t":0.075,"i":0.005},{"s":15,"t":0.09,"i":-0.002},
      {"s":15,"t":0.1,"i":0.001},{"s":15,"t":0.1005,"i":0.025},{"s":15,"t":0.103,"i":0.012},
      {"s":15,"t":0.11,"i":0.031},{"s":15,"t":0.12,"i":0.004},{"s":15,"t":0.13,"i":0.020},{"s":15,"t":0.14,"i":0.006},{"s":15,"t":0.15,"i":0.023},{"s":15,"t":0.16,"i":-0.001},{"s":15,"t":0.17,"i":0.004},{"s":15,"t":0.18,"i":0.014},{"s":15,"t":0.19,"i":-0.008},{"s":15,"t":0.2,"i":0.011},
      {"s":15,"t":0.21,"i":-0.001},{"s":15,"t":0.22,"i":0.016},{"s":15,"t":0.23,"i":-0.007},{"s":15,"t":0.24,"i":0.007},{"s":15,"t":0.25,"i":-0.004},{"s":15,"t":0.26,"i":0.018},{"s":15,"t":0.27,"i":-0.002},{"s":15,"t":0.28,"i":-0.008},{"s":15,"t":0.29,"i":0.012},{"s":15,"t":0.3,"i":0.001},
      {"s":15,"t":0.31,"i":0.015},{"s":15,"t":0.32,"i":-0.010},{"s":15,"t":0.33,"i":0.009},{"s":15,"t":0.34,"i":-0.005},{"s":15,"t":0.35,"i":0.014},{"s":15,"t":0.36,"i":0.003},{"s":15,"t":0.37,"i":-0.007},{"s":15,"t":0.38,"i":0.013},{"s":15,"t":0.39,"i":-0.002},{"s":15,"t":0.4,"i":0.017},
      {"s":15,"t":0.41,"i":-0.006},{"s":15,"t":0.42,"i":0.006},{"s":15,"t":0.43,"i":-0.009},{"s":15,"t":0.44,"i":0.011},{"s":15,"t":0.45,"i":0.000},{"s":15,"t":0.46,"i":0.016},{"s":15,"t":0.47,"i":-0.004},{"s":15,"t":0.48,"i":-0.001},{"s":15,"t":0.49,"i":0.014},{"s":15,"t":0.5,"i":-0.008},
      {"s":15,"t":0.51,"i":0.010},{"s":15,"t":0.52,"i":-0.005},{"s":15,"t":0.53,"i":0.015},{"s":15,"t":0.54,"i":0.001},{"s":15,"t":0.55,"i":-0.006},{"s":15,"t":0.56,"i":-0.006},{"s":15,"t":0.57,"i":0.010},{"s":15,"t":0.58,"i":-0.009},{"s":15,"t":0.59,"i":0.015},{"s":15,"t":0.6,"i":0.000},
      {"s":15,"t":0.6005,"i":-0.002},{"s":15,"t":0.605,"i":0.005},{"s":15,"t":0.61,"i":-0.006},{"s":15,"t":0.62,"i":0.003},{"s":15,"t":0.63,"i":0.004},{"s":15,"t":0.64,"i":-0.005},{"s":15,"t":0.655,"i":0.001},{"s":15,"t":0.67,"i":0.004},{"s":15,"t":0.685,"i":-0.006},{"s":15,"t":0.7,"i":0.003},

      {"s":16,"t":0,"i":-0.002},{"s":16,"t":0.015,"i":-0.006},{"s":16,"t":0.03,"i":0.004},{"s":16,"t":0.045,"i":0.002},{"s":16,"t":0.06,"i":-0.007},{"s":16,"t":0.075,"i":0.007},{"s":16,"t":0.09,"i":-0.005},
      {"s":16,"t":0.1,"i":-0.002},{"s":16,"t":0.1005,"i":0.02},{"s":16,"t":0.103,"i":0.008},
      {"s":16,"t":0.11,"i":0.020},{"s":16,"t":0.12,"i":-0.004},{"s":16,"t":0.13,"i":0.013},{"s":16,"t":0.14,"i":-0.001},{"s":16,"t":0.15,"i":0.014},{"s":16,"t":0.16,"i":-0.011},{"s":16,"t":0.17,"i":0.002},{"s":16,"t":0.18,"i":-0.010},{"s":16,"t":0.19,"i":0.012},{"s":16,"t":0.2,"i":-0.008},
      {"s":16,"t":0.21,"i":-0.014},{"s":16,"t":0.22,"i":0.006},{"s":16,"t":0.23,"i":-0.005},{"s":16,"t":0.24,"i":0.009},{"s":16,"t":0.25,"i":-0.016},{"s":16,"t":0.26,"i":0.003},{"s":16,"t":0.27,"i":-0.011},{"s":16,"t":0.28,"i":0.008},{"s":16,"t":0.29,"i":-0.003},{"s":16,"t":0.3,"i":-0.013},
      {"s":16,"t":0.31,"i":0.007},{"s":16,"t":0.32,"i":-0.008},{"s":16,"t":0.33,"i":0.011},{"s":16,"t":0.34,"i":-0.012},{"s":16,"t":0.35,"i":0.000},{"s":16,"t":0.36,"i":-0.015},{"s":16,"t":0.37,"i":0.005},{"s":16,"t":0.38,"i":-0.006},{"s":16,"t":0.39,"i":0.010},{"s":16,"t":0.4,"i":-0.010},
      {"s":16,"t":0.41,"i":-0.007},{"s":16,"t":0.42,"i":0.008},{"s":16,"t":0.43,"i":-0.014},{"s":16,"t":0.44,"i":0.004},{"s":16,"t":0.45,"i":-0.011},{"s":16,"t":0.46,"i":0.009},{"s":16,"t":0.47,"i":-0.005},{"s":16,"t":0.48,"i":-0.012},{"s":16,"t":0.49,"i":-0.012},{"s":16,"t":0.5,"i":0.004},
      {"s":16,"t":0.51,"i":-0.015},{"s":16,"t":0.52,"i":0.009},{"s":16,"t":0.53,"i":-0.006},{"s":16,"t":0.54,"i":0.007},{"s":16,"t":0.55,"i":-0.017},{"s":16,"t":0.56,"i":0.002},{"s":16,"t":0.57,"i":-0.009},{"s":16,"t":0.58,"i":0.011},{"s":16,"t":0.59,"i":-0.011},{"s":16,"t":0.6,"i":-0.004},
      {"s":16,"t":0.6005,"i":0.001},{"s":16,"t":0.605,"i":-0.004},{"s":16,"t":0.61,"i":0.006},{"s":16,"t":0.62,"i":-0.005},{"s":16,"t":0.63,"i":0.002},{"s":16,"t":0.64,"i":0.006},{"s":16,"t":0.655,"i":-0.004},{"s":16,"t":0.67,"i":-0.002},{"s":16,"t":0.685,"i":0.004},{"s":16,"t":0.7,"i":-0.003}
    ]
  },
  "layer": [
    {
      "mark": {"type": "line", "color": "#0000ff", "strokeWidth": 2.2, "clip": false},
      "encoding": {
        "x": {
          "field": "t",
          "type": "quantitative",
          "scale": {"domain": [-0.0267, 0.728], "nice": false, "zero": false},
          "axis": {"values": [0.1, 0.35, 0.6], "format": ".2~g", "title": "t [s]", "labelPadding": 54, "labelBaseline": "alphabetic", "titleY": 89, "titleBaseline": "alphabetic"}
        },
        "y": {
          "field": "i",
          "type": "quantitative",
          "scale": {"domain": [-0.197, 0.8315], "nice": false, "zero": false},
          "axis": {"values": [0, 0.35, 0.7], "format": ".2~g", "title": "I [nA]", "labelPadding": 23, "titleX": -107, "titleBaseline": "alphabetic"}
        },
        "detail": {"field": "s", "type": "nominal"}
      }
    },
    {
      "data": {"values": [{}]},
      "mark": {"type": "text", "text": "Kv12.3\u00a0\u00a0Rat\u00a0\u00a0CHO\u00a0\u00a015\u00a0°C", "align": "left", "baseline": "alphabetic", "font": "DejaVu Sans", "fontSize": 22, "fontWeight": "bold", "color": "#000000"},
      "encoding": {
        "x": {"datum": 0.0122, "type": "quantitative"},
        "y": {"datum": 0.832, "type": "quantitative"}
      }
    },
    {
      "data": {"values": [{}]},
      "mark": {"type": "text", "text": "Activation", "align": "right", "baseline": "alphabetic", "font": "DejaVu Sans", "fontSize": 21.5, "color": "#000000"},
      "encoding": {
        "x": {"datum": 0.710, "type": "quantitative"},
        "y": {"datum": 0.832, "type": "quantitative"}
      }
    },
    {
      "data": {"values": [{}]},
      "mark": {"type": "text", "text": "BBP Channelpedia ID 16609 rep 2", "align": "center", "baseline": "alphabetic", "angle": 270, "font": "DejaVu Sans", "fontSize": 22.4, "color": "#000000"},
      "encoding": {
        "x": {"datum": 0.7294, "type": "quantitative"},
        "y": {"datum": 0.3214, "type": "quantitative"}
      }
    }
  ],
  "config": {
    "view": {"stroke": null},
    "axis": {
      "grid": false,
      "domainColor": "#262626",
      "domainWidth": 1,
      "tickColor": "#262626",
      "tickWidth": 1,
      "tickSize": -8,
      "labelColor": "#262626",
      "titleColor": "#262626",
      "labelFont": "DejaVu Sans",
      "titleFont": "DejaVu Sans",
      "labelFontSize": 32,
      "titleFontSize": 32,
      "titleFontWeight": "normal",
      "labelFlush": false,
      "labelOverlap": false
    }
  }
}
